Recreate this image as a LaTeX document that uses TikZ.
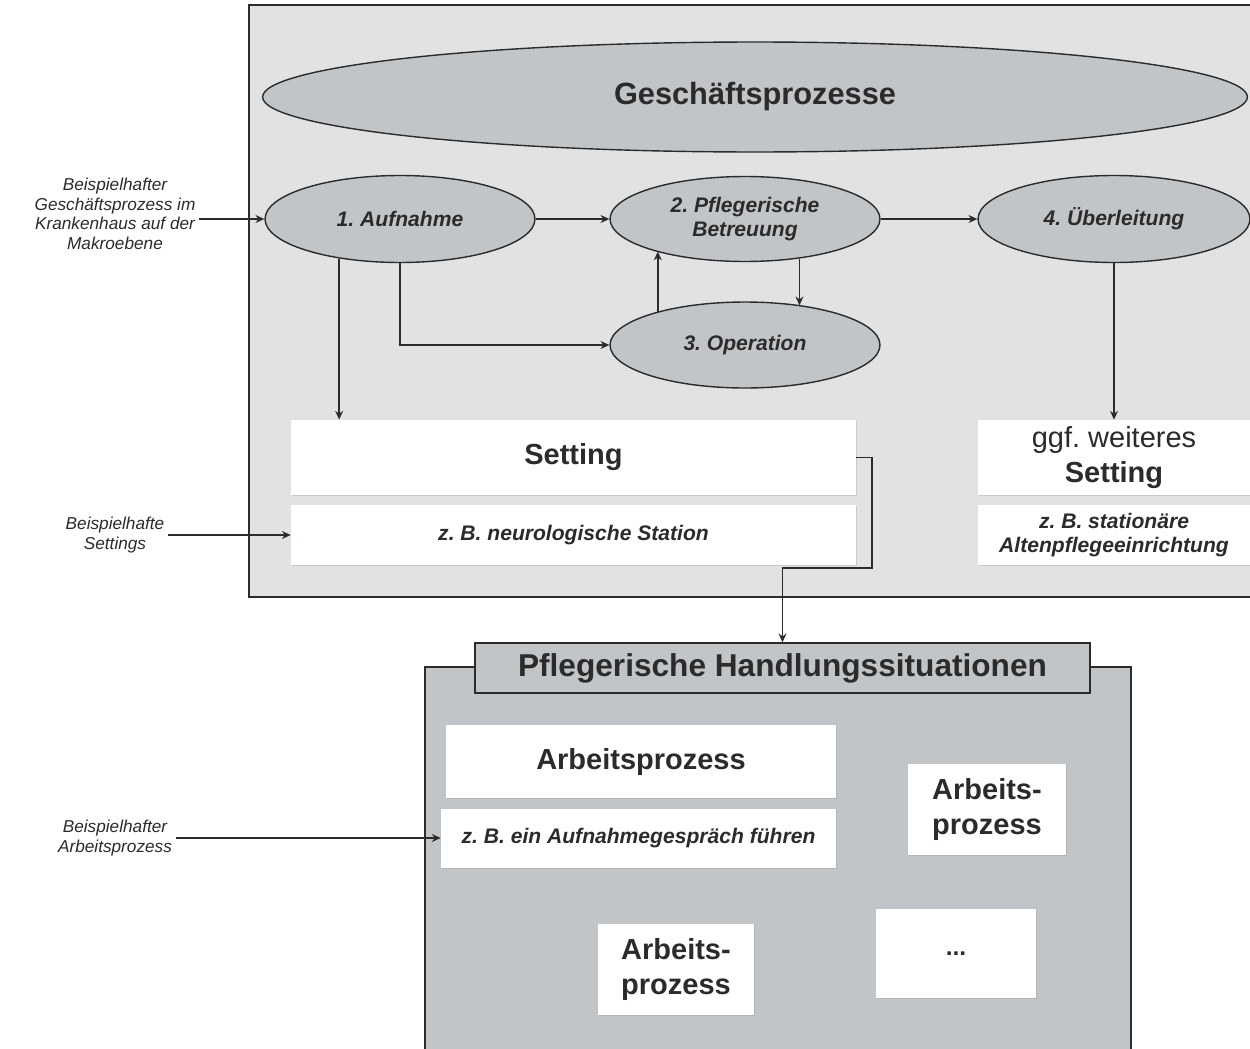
\documentclass[tikz,border=0pt]{standalone}
\usepackage{fontspec}
\setmainfont{Liberation Sans}
\usetikzlibrary{shapes.geometric,arrows.meta,shadows}
\definecolor{panel}{HTML}{E1E2E4}
\definecolor{shade}{HTML}{C2C5C8}
\definecolor{ink}{HTML}{2B2B2B}
\frenchspacing
\begin{document}
\begin{tikzpicture}[x=0.02cm,y=-0.02cm,
  proc/.style={ellipse, draw=ink, line width=0.8pt, fill=shade, inner sep=0pt,
    text=ink, align=center, font=\fontsize{12}{14}\selectfont\bfseries\itshape},
  card/.style={rectangle, fill=white, inner sep=0pt, align=center, text=ink,
    drop shadow={shadow xshift=0.4pt, shadow yshift=-0.8pt, opacity=0.25}},
  cardhead/.style={card, font=\fontsize{16.5}{20}\selectfont\bfseries},
  cardnote/.style={card, font=\fontsize{12}{14}\selectfont\bfseries\itshape},
  note/.style={align=center, text=ink, inner sep=2pt,
    font=\fontsize{9.8}{11.2}\selectfont\itshape},
  conn/.style={draw=ink, line width=0.8pt, -{Stealth[length=5pt,width=4.5pt]}},
  frame/.style={draw=ink, line width=0.8pt}]
\useasboundingbox (0,0) rectangle (1250,1048);
\clip (0,0) rectangle (1250,1048);
\fill[white] (0,0) rectangle (1250,1048);

% background panels
\draw[frame, fill=panel] (249,5) rectangle (1262,597);
\draw[frame, fill=shade] (425,667) rectangle (1131,1062);

% business processes
\node[proc, minimum width=19.7cm, minimum height=2.2cm,
  font=\fontsize{17.5}{20}\selectfont\bfseries] (gp) at (755,97) {Geschäftsprozesse};
\node[proc, minimum width=5.4cm, minimum height=1.74cm] (auf) at (400,219) {1. Aufnahme};
\node[proc, minimum width=5.4cm, minimum height=1.7cm] (pfl) at (745,219) {2. Pflegerische\\Betreuung};
\node[proc, minimum width=5.4cm, minimum height=1.72cm] (op) at (745,345) {3. Operation};
\node[proc, minimum width=5.44cm, minimum height=1.74cm] (ueb) at (1114,219) {4. Überleitung};

% side notes
\node[note] (n1) at (115,214) {Beispielhafter\\Geschäftsprozess im\\Krankenhaus auf der\\Makroebene};
\node[note] (n2) at (115,535) {Beispielhafte\\Settings};
\node[note] (n3) at (115,838) {Beispielhafter\\Arbeitsprozess};

% settings
\node[cardhead, minimum width=11.3cm, minimum height=1.5cm] (set) at (573.5,457.5) {Setting};
\node[cardnote, minimum width=11.3cm, minimum height=1.2cm] (neu) at (573.5,535) {z. B. neurologische Station};
\node[card, minimum width=5.44cm, minimum height=1.5cm,
  font=\fontsize{16.5}{20}\selectfont] (ggf) at (1114,457.5) {ggf. weiteres\\\textbf{Setting}};
\node[cardnote, minimum width=5.44cm, minimum height=1.2cm] (sta) at (1114,535) {z. B. stationäre\\Altenpflegeeinrichtung};

% nursing situations
\node[frame, fill=shade, minimum width=12.3cm, minimum height=1.0cm, text=ink,
  font=\fontsize{18}{20}\selectfont\bfseries] (ph) at (782.5,668) {Pflegerische Handlungssituationen};
\node[cardhead, minimum width=7.8cm, minimum height=1.46cm] (ap1) at (641,761.5) {Arbeitsprozess};
\node[cardnote, minimum width=7.9cm, minimum height=1.18cm] (ap1b) at (638.5,838.5) {z. B. ein Aufnahmegespräch führen};
\node[cardhead, minimum width=3.16cm, minimum height=1.82cm] (ap2) at (987,809.5) {Arbeits-\\prozess};
\node[cardhead, minimum width=3.12cm, minimum height=1.82cm] (ap3) at (676,969.5) {Arbeits-\\prozess};
\node[card, minimum width=3.2cm, minimum height=1.78cm, text depth=0pt,
  font=\fontsize{14}{16}\selectfont\bfseries] (more) at (956,953.5) {...};

% connectors
\draw[conn] (n1.east |- auf.west) -- (auf.west);
\draw[conn] (auf.east) -- (pfl.west);
\draw[conn] (pfl.east) -- (ueb.west);
\draw[conn] (auf.213.5) -- (auf.213.5 |- set.north);
\draw[conn] (auf.south) |- (op.west);
\draw[conn] (op.159.2) -- (op.159.2 |- pfl.200.5);
\draw[conn] (pfl.324.8) -- (pfl.324.8 |- op.35.5);
\draw[conn] (ueb.south) -- (ggf.north);
\coordinate (jog) at (872,568);
\draw[conn] (set.east) -| (jog) -| (ph.north);
\draw[conn] (n2.east) -- (n2.east -| neu.west);
\draw[conn] (n3.east) -- (n3.east -| ap1b.west);
\end{tikzpicture}
\end{document}
